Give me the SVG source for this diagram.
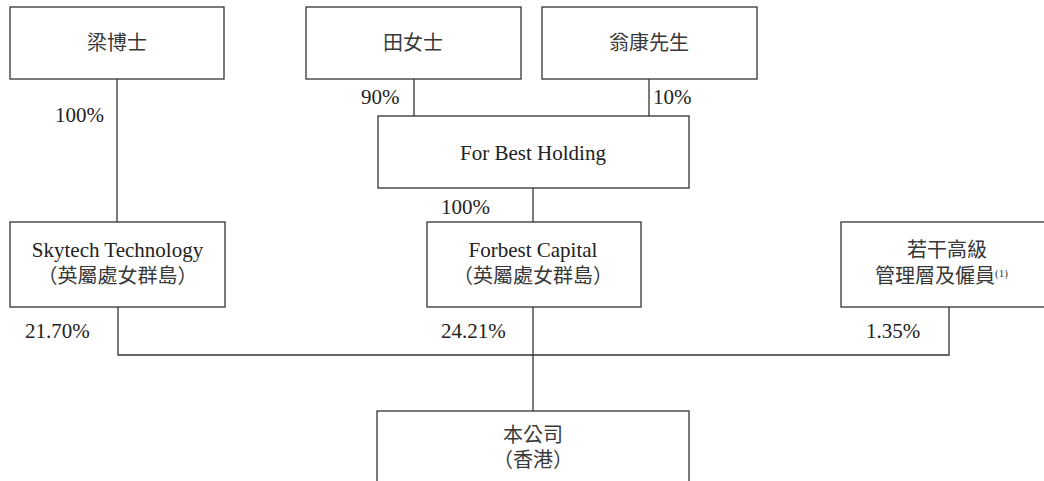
<svg xmlns="http://www.w3.org/2000/svg" width="1044" height="481" viewBox="0 0 1044 481">
<style>
.box{fill:#fff;stroke:#333;stroke-width:1.3}
.ln{fill:none;stroke:#333;stroke-width:1.3}
text{font-family:"Liberation Serif","Noto Sans CJK TC",serif;font-size:21px;fill:#222}
.cjk{font-size:20px;fill:#383838}
.c{text-anchor:middle}
.sup{font-size:11px}
</style>
<rect width="1044" height="481" fill="#fff"/>
<g id="connectors">
<path class="ln" d="M117,79V222"/>
<path class="ln" d="M414,79V116"/>
<path class="ln" d="M649,79V116"/>
<path class="ln" d="M533,188V222"/>
<path class="ln" d="M118,307V355H949V307"/>
<path class="ln" d="M533,307V411"/>
<text x="55" y="122">100%</text>
<text x="361" y="104">90%</text>
<text x="653" y="104">10%</text>
<text x="441" y="214">100%</text>
<text x="25" y="338">21.70%</text>
<text x="441" y="338">24.21%</text>
<text x="866" y="338">1.35%</text>
</g>
<g id="n-liang"><rect class="box" x="10" y="7" width="214" height="72"/><text class="c cjk" x="117" y="50">梁博士</text></g>
<g id="n-tian"><rect class="box" x="306" y="7" width="215" height="72"/><text class="c cjk" x="413" y="50">田女士</text></g>
<g id="n-weng"><rect class="box" x="542" y="7" width="215" height="72"/><text class="c cjk" x="649" y="50">翁康先生</text></g>
<g id="n-forbestholding"><rect class="box" x="378" y="116" width="311" height="72"/><text class="c" x="533" y="160">For Best Holding</text></g>
<g id="n-skytech"><rect class="box" x="10" y="222" width="215" height="85"/><text class="c" x="117.5" y="257">Skytech Technology</text><text class="c cjk" x="117.5" y="283">（英屬處女群島）</text></g>
<g id="n-forbestcapital"><rect class="box" x="427" y="222" width="214" height="85"/><text class="c" x="533" y="257">Forbest Capital</text><text class="c cjk" x="533" y="283">（英屬處女群島）</text></g>
<g id="n-mgmt"><rect class="box" x="841" y="222" width="212" height="85"/><text class="c cjk" x="947" y="257">若干高級</text><text class="cjk" x="875" y="283">管理層及僱員<tspan class="sup" dy="-6">(1)</tspan></text></g>
<g id="n-company"><rect class="box" x="377" y="411" width="312" height="90"/><text class="c cjk" x="533" y="442">本公司</text><text class="c cjk" x="533" y="467">（香港）</text></g>
</svg>
